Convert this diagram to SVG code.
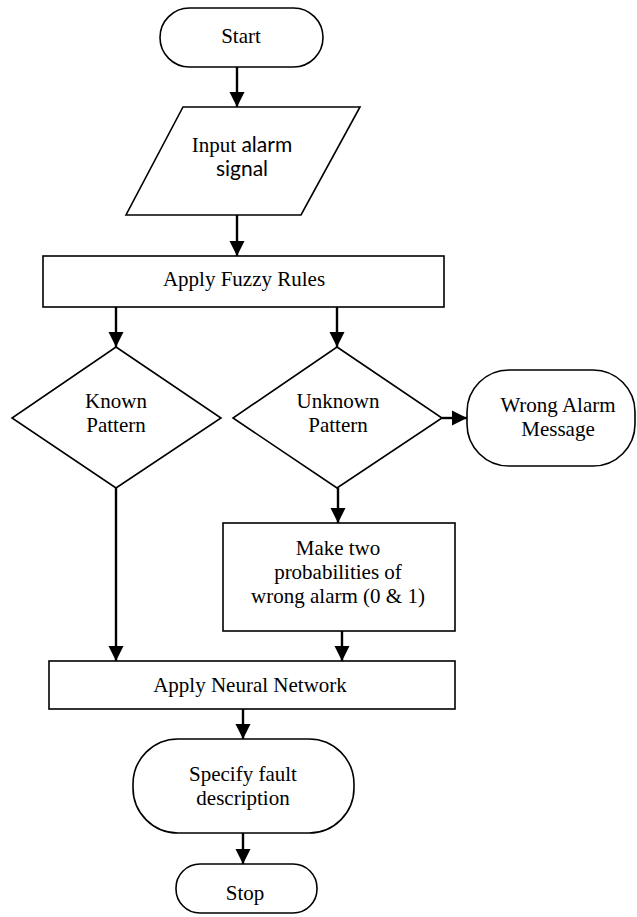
<svg xmlns="http://www.w3.org/2000/svg" width="637" height="917" viewBox="0 0 637 917">
<style>
.s{fill:#fff;stroke:#000;stroke-width:1.6}
.t{font-family:"Liberation Serif","Times New Roman",serif;font-size:21px;fill:#000;text-anchor:middle}
.sans{font-family:Lato,"Liberation Sans",sans-serif}
.c{stroke:#000;stroke-width:2.4;fill:none;marker-end:url(#ah)}
</style>
<defs>
<marker id="ah" viewBox="0 0 10 10" refX="10" refY="5" markerUnits="userSpaceOnUse" markerWidth="15" markerHeight="16" orient="auto">
<path d="M0,0 L10,5 L0,10 Z" fill="#000"/>
</marker>
</defs>
<rect width="637" height="917" fill="#fff"/>
<g id="connectors">
<line class="c" x1="237" y1="67" x2="237" y2="107"/>
<line class="c" x1="237" y1="215" x2="237" y2="256"/>
<line class="c" x1="116" y1="307" x2="116" y2="347"/>
<line class="c" x1="337" y1="307" x2="337" y2="347"/>
<line class="c" x1="442" y1="418" x2="467" y2="418"/>
<line class="c" x1="338" y1="488" x2="338" y2="523"/>
<line class="c" x1="116" y1="488" x2="116" y2="661"/>
<line class="c" x1="342" y1="631" x2="342" y2="661"/>
<line class="c" x1="243" y1="709" x2="243" y2="739"/>
<line class="c" x1="243" y1="833" x2="243" y2="864"/>
</g>
<g id="start">
<rect class="s" x="160" y="8" width="163" height="59" rx="29.5"/>
<text class="t" x="241" y="43">Start</text>
</g>
<g id="input">
<polygon class="s" points="183,107 360,107 301,215 126,215"/>
<text class="t" x="242" y="152">Input <tspan class="sans">alarm</tspan></text>
<text class="t sans" x="242" y="176">signal</text>
</g>
<g id="fuzzy">
<rect class="s" x="43" y="256" width="401" height="51"/>
<text class="t" x="244" y="286">Apply Fuzzy Rules</text>
</g>
<g id="known">
<polygon class="s" points="116,347 221,418 116,488 12,418"/>
<text class="t" x="116" y="408">Known</text>
<text class="t" x="116" y="432">Pattern</text>
</g>
<g id="unknown">
<polygon class="s" points="337,347 442,418 337,488 233,418"/>
<text class="t" x="338" y="408">Unknown</text>
<text class="t" x="338" y="432">Pattern</text>
</g>
<g id="wrong">
<rect class="s" x="467" y="370" width="168" height="96" rx="42"/>
<text class="t" x="558" y="412">Wrong Alarm</text>
<text class="t" x="558" y="436">Message</text>
</g>
<g id="make">
<rect class="s" x="223" y="523" width="232" height="108"/>
<text class="t" x="338" y="555">Make two</text>
<text class="t" x="338" y="579">probabilities of</text>
<text class="t" x="338" y="603">wrong alarm (0 &amp; 1)</text>
</g>
<g id="neural">
<rect class="s" x="49" y="661" width="406" height="48"/>
<text class="t" x="250" y="692">Apply Neural Network</text>
</g>
<g id="specify">
<rect class="s" x="133" y="739" width="221" height="94" rx="45"/>
<text class="t" x="243" y="781">Specify fault</text>
<text class="t" x="243" y="805">description</text>
</g>
<g id="stop">
<rect class="s" x="176" y="864" width="141" height="49" rx="24"/>
<text class="t" x="245" y="900">Stop</text>
</g>
</svg>
